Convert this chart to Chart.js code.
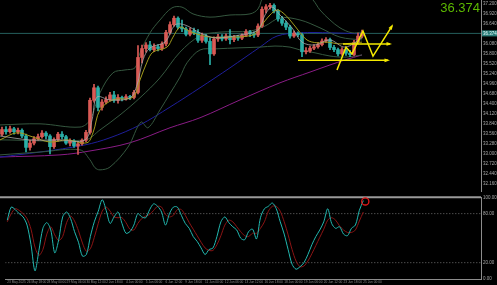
<!DOCTYPE html>
<html>
<head>
<meta charset="utf-8">
<script src="https://cdn.jsdelivr.net/npm/chart.js@4.4.1/dist/chart.umd.min.js"></script>
<style>
  html, body { margin: 0; padding: 0; background: #000; overflow: hidden; }
  canvas { display: block; }
</style>
</head>
<body>
<canvas id="price-chart" width="497" height="192"></canvas>
<canvas id="stoch-chart" width="497" height="93"></canvas>
<script>
// Candles (bar index 0..90)
const open = [33.55,33.68,33.62,33.70,33.62,33.66,33.50,33.18,33.30,33.42,
  33.48,33.58,33.50,33.20,33.40,33.55,33.48,33.30,33.36,33.22,
  33.28,33.38,33.60,34.50,34.85,34.30,34.45,34.52,34.65,34.50,
  34.58,34.55,34.60,34.58,34.72,35.70,35.95,36.05,35.92,36.00,
  35.95,36.08,36.40,36.62,36.80,36.55,36.50,36.35,36.45,36.40,
  36.18,36.30,36.15,35.80,36.22,36.28,36.22,36.30,36.20,36.28,
  36.24,36.32,36.42,36.36,36.33,36.58,37.05,37.12,37.16,37.00,
  36.78,36.66,36.55,36.30,36.38,36.34,35.86,35.88,35.96,36.00,
  36.06,36.16,36.20,35.98,35.92,35.80,35.92,35.82,35.78,36.12,
  36.30];
const close = [33.68,33.62,33.70,33.62,33.66,33.50,33.18,33.30,33.42,33.48,
  33.58,33.50,33.20,33.40,33.55,33.48,33.30,33.36,33.22,33.28,
  33.38,33.60,34.50,34.85,34.30,34.45,34.52,34.65,34.50,34.58,
  34.55,34.60,34.58,34.72,35.70,35.95,36.05,35.92,36.00,35.95,
  36.08,36.40,36.62,36.80,36.55,36.50,36.35,36.45,36.40,36.18,
  36.30,36.15,35.80,36.22,36.28,36.22,36.30,36.20,36.28,36.24,
  36.32,36.42,36.36,36.33,36.58,37.05,37.12,37.16,37.00,36.78,
  36.66,36.55,36.30,36.38,36.34,35.86,35.88,35.96,36.00,36.06,
  36.16,36.20,35.98,35.92,35.80,35.92,35.82,35.78,36.12,36.30,
  36.374];
const high = [33.75,33.76,33.78,33.74,33.72,33.70,33.55,33.38,33.48,33.55,
  33.65,33.62,33.54,33.45,33.60,33.62,33.52,33.42,33.40,33.34,
  33.42,33.66,34.56,34.95,34.90,34.52,34.60,34.72,34.75,34.66,
  34.62,34.66,34.64,34.78,36.03,36.05,36.12,36.15,36.08,36.06,
  36.14,36.46,36.70,36.86,36.84,36.75,36.55,36.52,36.52,36.48,
  36.38,36.35,36.25,36.28,36.35,36.34,36.36,36.48,36.32,36.32,
  36.36,36.48,36.46,36.42,36.64,37.12,37.18,37.22,37.20,37.04,
  36.85,36.72,36.60,36.44,36.42,36.38,35.98,36.02,36.06,36.12,
  36.22,36.26,36.24,36.04,35.96,35.98,35.96,35.90,36.18,36.38,
  36.47];
const low = [33.50,33.55,33.58,33.55,33.56,33.45,33.05,33.10,33.25,33.38,
  33.44,33.42,33.00,33.15,33.35,33.42,33.26,33.22,33.18,32.98,
  33.24,33.34,33.55,34.45,34.20,34.22,34.40,34.48,34.44,34.42,
  34.48,34.50,34.52,34.54,34.68,35.55,35.85,35.88,35.86,35.88,
  35.90,36.02,36.35,36.58,36.50,36.42,36.30,36.30,36.34,36.12,
  36.12,36.10,35.50,35.76,36.15,36.16,36.18,36.08,36.14,36.18,
  36.20,36.28,36.28,36.26,36.28,36.54,36.95,37.05,36.95,36.72,
  36.60,36.48,36.24,36.26,36.28,35.72,35.80,35.84,35.92,35.96,
  36.02,36.12,35.92,35.86,35.74,35.76,35.76,35.72,35.74,36.08,
  36.25];
const lastPrice = 36.374;

// Indicator lines as [bar, price]
const bbUpper = [[-0.5,33.81],[9.5,33.84],[19.5,33.75],[22,33.95],[24.5,34.71],[27.75,35.27],[30.75,35.35],
  [33.25,35.41],[34.5,35.83],[37,36.39],[39.5,36.75],[42.5,37.09],[45,37.11],[47.75,36.92],[52,36.83],
  [57,36.89],[62,36.92],[64,37.06],[65.5,37.45],[69.5,37.81],[74.5,37.65],[77.75,37.31],[79.5,37.03],
  [82,36.75],[84.5,36.53],[87.5,36.39],[90,36.41]];
const bbMiddle = [[-0.5,33.39],[20.75,33.39],[24.5,33.67],[29.5,34.09],[34.5,34.57],[39.5,35.13],[44.5,35.85],
  [49.5,36.30],[54.5,36.41],[62,36.44],[65.75,36.58],[69.5,36.81],[74.5,36.75],[79.5,36.53],[84.5,36.27],[90,36.19]];
const bbLower = [[-0.5,32.97],[9.5,33.05],[19.5,33.11],[22,32.83],[23.25,32.61],[24.5,32.55],[27,32.63],
  [31.5,33.19],[34.75,33.89],[36.5,33.73],[39.5,34.23],[42,34.69],[44.5,35.15],[46.25,35.55],[49.5,35.91],
  [53.25,35.94],[59.5,35.97],[64.5,35.99],[68.25,36.02],[72,35.99],[74.5,35.91],[78.25,35.83],[82,35.74],
  [85.75,35.71],[90,35.77]];
const maYellow = [[-0.5,33.39],[3.75,33.59],[7.75,33.47],[12,33.33],[16.25,33.39],[21.25,33.31],[22.75,33.59],
  [24.5,34.23],[27.75,34.51],[32.75,34.59],[34.5,35.07],[36.25,35.57],[37.75,35.85],[41.25,35.99],[42.75,36.27],
  [44.5,36.55],[46.25,36.47],[47.75,36.39],[52,36.27],[56.25,36.27],[62.75,36.33],[64.5,36.55],[67,36.89],
  [68.75,37.03],[70.25,36.95],[72,36.75],[74,36.47],[76.25,36.19],[78.75,36.11],[81.25,36.13],[84.5,36.08],[90,36.13]];
const maGray = [[-0.5,33.50],[7,33.39],[14.5,33.39],[20.75,33.39],[22.5,33.95],[23.75,34.59],[27,34.51],
  [32,34.57],[33.75,34.93],[35.25,35.63],[37,35.97],[40.75,36.13],[43.25,36.61],[45.75,36.61],[49.5,36.39],
  [53.25,36.25],[59.5,36.33],[64,36.47],[65.75,36.89],[67.5,37.11],[69.5,36.89],[72.5,36.53],[75,36.13],
  [78.25,36.05],[82,36.19],[85.75,35.99],[90,36.25]];
const maBlue = [[-0.5,32.91],[9.5,33.05],[20.75,33.25],[27,33.45],[34.5,33.81],[42,34.31],[49.5,34.85],
  [57,35.41],[64.5,35.99],[68.75,36.30],[74.5,36.39],[82,36.39],[90,36.36]];
const maPurple = [[-0.5,32.91],[14.5,32.97],[22,33.08],[32,33.31],[42,33.73],[49.5,34.01],[59.5,34.51],
  [69.5,34.99],[77,35.29],[82,35.49],[85.75,35.63],[90,35.77]];

// Hand-drawn yellow projections
const supportLine = [[74,35.62],[96.5,35.62]];
const pivotLine = [[85.25,36.08],[97,36.08]];
const zigzag = [[83.75,35.35],[86,35.99],[87.5,35.80],[90.25,36.44],[92.75,35.74],[97.5,36.58]];

// Stochastic
const stochK = [72,88,85,80,76,66,42,10,35,62,69,60,32,48,76,82,74,58,45,28,
  30,52,70,83,97,84,68,76,82,68,56,58,66,80,76,75,85,92,89,82,
  66,80,88,88,78,68,62,52,46,38,30,36,38,52,70,76,69,64,60,50,
  48,58,61,49,75,86,89,93,86,70,55,36,18,12,15,20,30,42,52,60,
  70,86,68,62,64,55,53,62,66,84,96];
const stochD = [70,80,86,84,80,74,61,39,29,36,55,64,54,47,52,69,77,71,59,44,
  34,37,51,68,83,88,83,76,75,75,69,61,60,68,74,77,79,84,89,88,
  79,76,78,85,85,78,69,61,53,45,38,35,35,42,53,66,72,70,64,58,
  53,52,56,56,62,70,83,89,89,83,70,54,36,22,15,16,22,31,41,51,
  61,72,75,72,65,60,57,57,60,71,82];
const stochLevels = [80, 20];
const alertPoint = [90.5, 95];

// Axis labels
const yTicks = [37.20,36.92,36.64,36.08,35.80,35.52,35.24,34.96,34.68,34.40,34.12,33.84,33.56,33.28,33.00,32.72,32.44,32.16];
const stochTicks = [100, 80, 20, 0];
const xTickBars = [0,5,10,15,20,25,30,35,40,45,50,55,60,65,70,75,80,85,90];
const xTickLabels = ['23 May 2025','26 May 18:00','28 May 00:00','29 May 06:00','30 May 12:00','2 Jun 18:00',
  '4 Jun 00:00','5 Jun 06:00','6 Jun 12:00','9 Jun 18:00','11 Jun 00:00','12 Jun 06:00','13 Jun 12:00',
  '16 Jun 18:00','18 Jun 00:00','19 Jun 06:00','20 Jun 12:00','23 Jun 18:00','25 Jun 00:00'];

const X_MIN = -0.5, X_MAX = 119.75;
const UP = '#d95a55', DOWN = '#2aafa7';
const AXIS = '#8c8c8c', TICK_TEXT = '#a8a8a8';

const pts = arr => arr.map(([x, y]) => ({x, y}));
const candleColors = close.map((c, i) => c >= open[i] ? UP : DOWN);

function lineSet(data, color, width) {
    return {
        type: 'line', data: pts(data), borderColor: color, borderWidth: width || 1,
        pointRadius: 0, tension: 0.35, fill: false
    };
}
function yellowSet(data, arrow) {
    return {
        type: 'line', data: pts(data), borderColor: '#f5ea00', borderWidth: 1.5,
        pointRadius: 0, tension: 0, fill: false, arrow: arrow, clip: false
    };
}

// Draws the big price, the price tag and arrowheads
const priceOverlay = {
    id: 'priceOverlay',
    afterDraw(chart) {
        const {ctx, chartArea, scales} = chart;
        ctx.save();
        chart.data.datasets.forEach((ds, i) => {
            if (!ds.arrow) return;
            const el = chart.getDatasetMeta(i).data;
            const a = el[el.length - 2], b = el[el.length - 1];
            const ang = Math.atan2(b.y - a.y, b.x - a.x);
            ctx.fillStyle = '#f5ea00';
            ctx.beginPath();
            ctx.moveTo(b.x + 2 * Math.cos(ang), b.y + 2 * Math.sin(ang));
            ctx.lineTo(b.x - 4 * Math.cos(ang - 0.5), b.y - 4 * Math.sin(ang - 0.5));
            ctx.lineTo(b.x - 4 * Math.cos(ang + 0.5), b.y - 4 * Math.sin(ang + 0.5));
            ctx.closePath();
            ctx.fill();
        });

        const y = scales.y.getPixelForValue(lastPrice);
        ctx.fillStyle = '#2a7c78';
        ctx.fillRect(chartArea.right + 1, y - 3, 15, 6);
        ctx.fillStyle = '#e6fffc';
        ctx.font = '4.5px "Liberation Sans"';
        ctx.textBaseline = 'middle';
        ctx.fillText(lastPrice.toFixed(3), chartArea.right + 2, y + 0.3);

        ctx.font = '13px "Liberation Sans"';
        ctx.fillStyle = '#5cb800';
        ctx.textAlign = 'right';
        ctx.textBaseline = 'alphabetic';
        ctx.fillText(lastPrice.toFixed(3), chartArea.right - 1, 12);
        ctx.restore();
    }
};

const stochOverlay = {
    id: 'stochOverlay',
    beforeDatasetsDraw(chart) {
        const {ctx, chartArea, scales} = chart;
        const y = scales.y.getPixelForValue(100);
        ctx.save();
        ctx.strokeStyle = '#9a9a9a';
        ctx.lineWidth = 2;
        ctx.beginPath();
        ctx.moveTo(0, y);
        ctx.lineTo(chartArea.right, y);
        ctx.stroke();
        ctx.restore();
    }
};

new Chart(document.getElementById('price-chart'), {
    type: 'bar',
    data: {
        datasets: [
            yellowSet(zigzag, true),
            yellowSet(pivotLine, true),
            yellowSet(supportLine, true),
            lineSet(maGray, '#a8a8a8', 0.8),
            lineSet(maYellow, '#a39c1c', 1),
            {
                type: 'bar', data: close.map((c, i) => ({x: i, y: [open[i], c]})),
                backgroundColor: candleColors, barThickness: 3, grouped: false, minBarLength: 1
            },
            {
                type: 'bar', data: close.map((c, i) => ({x: i, y: [low[i], high[i]]})),
                backgroundColor: candleColors, barThickness: 1, grouped: false
            },
            lineSet(bbUpper, '#35573f'),
            lineSet(bbMiddle, '#35573f'),
            lineSet(bbLower, '#35573f'),
            lineSet(maBlue, '#1e1e9a'),
            lineSet(maPurple, '#8a1c86'),
            {
                type: 'line', data: pts([[X_MIN, lastPrice], [X_MAX, lastPrice]]),
                borderColor: '#245f5c', borderWidth: 1, pointRadius: 0
            }
        ]
    },
    options: {
        responsive: false,
        animation: false,
        layout: { padding: 0 },
        plugins: { legend: { display: false }, tooltip: { enabled: false } },
        scales: {
            x: { type: 'linear', min: X_MIN, max: X_MAX, offset: false, display: false },
            y: {
                position: 'right', min: 31.93, max: 37.31,
                grid: { display: false, drawTicks: false },
                border: { display: true, color: AXIS },
                ticks: {
                    color: TICK_TEXT, padding: 2,
                    font: { family: 'Liberation Sans', size: 4.5 },
                    callback: v => Number(v).toFixed(3)
                },
                afterBuildTicks: s => { s.ticks = yTicks.map(v => ({value: v})); },
                afterFit: s => { s.width = 16; s.paddingTop = 0; s.paddingBottom = 0; }
            }
        }
    },
    plugins: [priceOverlay]
});

new Chart(document.getElementById('stoch-chart'), {
    type: 'line',
    data: {
        datasets: [
            {
                data: [{x: alertPoint[0], y: alertPoint[1]}], showLine: false, clip: false,
                pointRadius: 3.6, pointBorderWidth: 1.3, pointBorderColor: '#e01818',
                pointBackgroundColor: 'rgba(0,0,0,0)'
            },
            {
                data: stochK.map((v, i) => ({x: i, y: v})), borderColor: '#22b8b0',
                borderWidth: 1, pointRadius: 0, tension: 0.3
            },
            {
                data: stochD.map((v, i) => ({x: i, y: v})), borderColor: '#8c1414',
                borderWidth: 1, pointRadius: 0, tension: 0.3
            },
            ...stochLevels.map(lv => ({
                data: [{x: X_MIN, y: lv}, {x: X_MAX, y: lv}], borderColor: '#6e6e6e',
                borderWidth: 1, borderDash: [1, 2], pointRadius: 0
            }))
        ]
    },
    options: {
        responsive: false,
        animation: false,
        layout: { padding: { top: 3, left: 0, right: 0, bottom: 0 } },
        plugins: { legend: { display: false }, tooltip: { enabled: false } },
        scales: {
            x: {
                type: 'linear', min: X_MIN, max: X_MAX,
                grid: { display: false, drawTicks: false },
                border: { display: true, color: AXIS },
                ticks: {
                    color: '#8a8a8a', padding: 1.5, align: 'start', autoSkip: false,
                    maxRotation: 0, minRotation: 0,
                    font: { family: 'Liberation Sans', size: 3.2 },
                    callback: (v, i) => xTickLabels[i]
                },
                afterBuildTicks: s => { s.ticks = xTickBars.map(v => ({value: v})); },
                afterFit: s => { s.height = 6; s.paddingLeft = 0; s.paddingRight = 0; }
            },
            y: {
                position: 'right', min: 0, max: 100,
                grid: { display: false, drawTicks: false },
                border: { display: true, color: AXIS },
                ticks: {
                    color: TICK_TEXT, padding: 2,
                    font: { family: 'Liberation Sans', size: 4.5 },
                    callback: v => Number(v).toFixed(2)
                },
                afterBuildTicks: s => { s.ticks = stochTicks.map(v => ({value: v})); },
                afterFit: s => { s.width = 16; s.paddingTop = 0; s.paddingBottom = 0; }
            }
        }
    },
    plugins: [stochOverlay]
});
</script>
</body>
</html>
